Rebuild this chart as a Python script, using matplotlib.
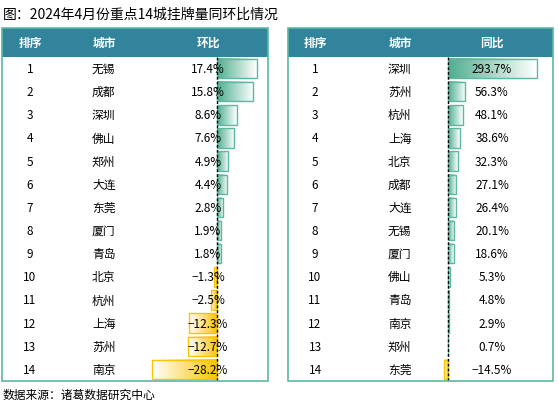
import matplotlib
matplotlib.use("Agg")
import matplotlib.pyplot as plt
import numpy as np
from matplotlib.patches import Rectangle
from matplotlib.colors import LinearSegmentedColormap

plt.rcParams['font.family'] = ['Noto Sans CJK SC', 'DejaVu Sans']

title = "图：2024年4月份重点14城挂牌量同环比情况"
source = "数据来源：诸葛数据研究中心"
ranks = list(range(1, 15))
mom_cities = ["无锡","成都","深圳","佛山","郑州","大连","东莞","厦门","青岛","北京","杭州","上海","苏州","南京"]
mom_vals = [17.4,15.8,8.6,7.6,4.9,4.4,2.8,1.9,1.8,-1.3,-2.5,-12.3,-12.7,-28.2]
yoy_cities = ["深圳","苏州","杭州","上海","北京","成都","大连","无锡","厦门","佛山","青岛","南京","郑州","东莞"]
yoy_vals = [293.7,56.3,48.1,38.6,32.3,27.1,26.4,20.1,18.6,5.3,4.8,2.9,0.7,-14.5]

fig = plt.figure(figsize=(5.58,4.06), dpi=100)
ax = fig.add_axes([0,0,1,1])
ax.set_xlim(0,558); ax.set_ylim(406,0); ax.axis('off')

green = LinearSegmentedColormap.from_list('g', ['#4fae90','#ffffff'])
gold = LinearSegmentedColormap.from_list('o', ['#ffffff','#fbc300'])
grad = np.linspace(0,1,64).reshape(1,-1)

ax.text(3,15,title,fontsize=10,va='center',ha='left')
ax.text(3,395,source,fontsize=8.5,va='center',ha='left')

top, head_h, bot = 29, 29, 382
row_h = (bot-top-head_h)/14

def table(x0, x1, cities, vals, zero, scale, rank_x, city_x, val_x, vname):
    ax.add_patch(Rectangle((x0,top),x1-x0,bot-top,fill=False,ec='#5cb8a2',lw=1.2,zorder=5))
    ax.add_patch(Rectangle((x0,top),x1-x0,head_h,fc='#31849b',ec='none',zorder=4))
    hy = top+head_h/2
    for x,t in [(rank_x,"排序"),(city_x+12,"城市"),(val_x,vname)]:
        ax.text(x,hy,t,color='white',fontsize=8.5,fontweight='bold',ha='center',va='center',zorder=6)
    for i,(c,v) in enumerate(zip(cities,vals)):
        yc = top+head_h+(i+0.5)*row_h
        y0 = yc-row_h*0.42; y1 = yc+row_h*0.42
        w = v*scale
        if v>=0:
            ax.imshow(grad,cmap=green,extent=(zero,zero+w,y1,y0),aspect='auto',zorder=2)
            ax.add_patch(Rectangle((zero,y0),w,y1-y0,fill=False,ec='#5cb8a2',lw=1,zorder=3))
        else:
            ax.imshow(grad,cmap=gold,extent=(zero+w,zero,y1,y0),aspect='auto',zorder=2)
            ax.add_patch(Rectangle((zero+w,y0),-w,y1-y0,fill=False,ec='#fbc300',lw=1,zorder=3))
        ax.text(rank_x,yc,str(ranks[i]),fontsize=8.5,ha='center',va='center',zorder=6)
        ax.text(city_x,yc,c,fontsize=8.5,ha='left',va='center',zorder=6)
        ax.text(val_x,yc,f"{v:.1f}%".replace('-','−'),fontsize=8.5,ha='center',va='center',zorder=6)
    ax.plot([zero,zero],[top+head_h,bot],ls=(0,(2,1.5)),color='black',lw=1,zorder=4)
    ax.set_xlim(0,558); ax.set_ylim(406,0)

table(2,268,mom_cities,mom_vals,217,40/17.4,30,92,208,"环比")
table(288,553,yoy_cities,yoy_vals,448,89/293.7,315,388,492,"同比")
fig.savefig("out.png",dpi=100)
